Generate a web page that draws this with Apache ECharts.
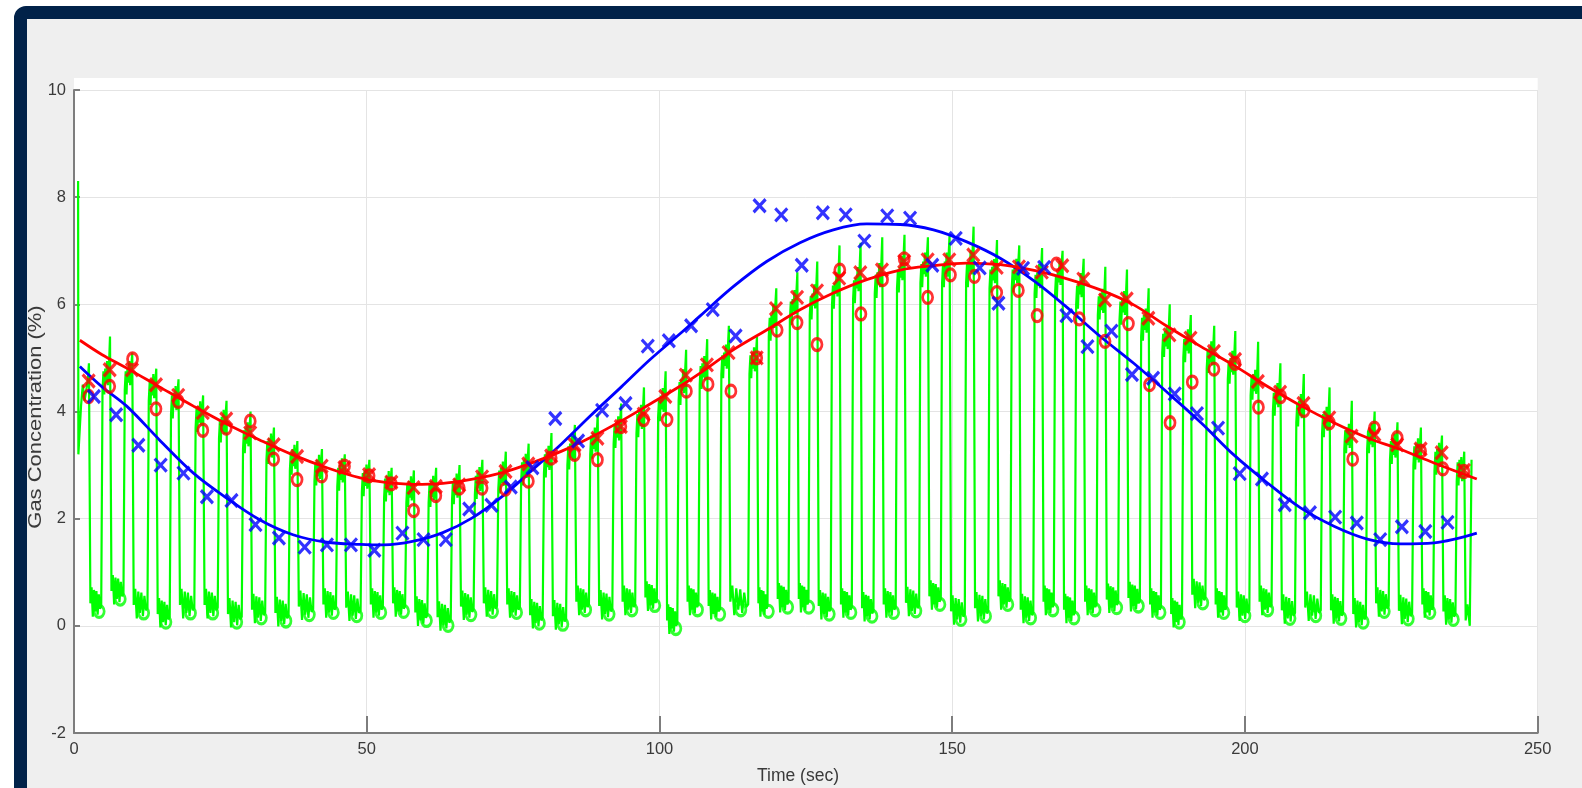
<!DOCTYPE html>
<html><head><meta charset="utf-8">
<script src="https://cdn.jsdelivr.net/npm/echarts@6/dist/echarts.min.js"></script>
<style>
html,body{margin:0;padding:0;background:#fff;}
body{width:1582px;height:788px;overflow:hidden;position:relative;}
#frame{position:absolute;left:14px;top:6px;width:1700px;height:900px;box-sizing:border-box;border:13px solid #012249;border-radius:12px;background:#efefef;}
#chart{position:absolute;left:0;top:0;width:1582px;height:788px;}
</style></head><body>
<div id="frame"></div><div id="chart"></div>
<script>
// ---------- data ----------
const xTicks = [0, 50, 100, 150, 200, 250];
const yTicks = [-2, 0, 2, 4, 6, 8, 10];

// end-tidal peaks (red x)
const redXTime = [2.5,6.1,9.9,14.0,17.8,22.0,26.0,30.1,34.1,38.1,42.3,46.2,50.4,54.2,58.0,61.8,65.8,69.7,73.7,77.6,81.5,85.5,89.4,93.4,97.3,101.0,104.5,108.1,111.8,116.6,119.9,123.5,126.9,130.7,134.3,138.0,141.8,145.8,149.5,153.6,157.6,161.4,165.3,168.8,172.4,176.1,179.8,183.5,187.1,190.7,194.7,198.3,202.2,206.0,210.0,214.4,218.2,222.1,226.0,230.0,233.6,237.4];
const redXValue = [4.57,4.78,4.78,4.50,4.30,3.98,3.86,3.60,3.38,3.16,2.98,2.95,2.82,2.68,2.58,2.60,2.63,2.78,2.88,3.02,3.17,3.38,3.50,3.72,3.95,4.28,4.68,4.87,5.10,5.00,5.92,6.13,6.25,6.49,6.59,6.64,6.80,6.83,6.83,6.92,6.69,6.70,6.60,6.72,6.47,6.08,6.10,5.74,5.43,5.37,5.12,4.97,4.56,4.36,4.15,3.88,3.54,3.57,3.38,3.30,3.23,2.90];

// red circles
const redOTime = [2.5,6.1,10.0,14.0,17.8,22.0,26.0,30.1,34.1,38.1,42.3,46.2,50.4,54.2,58.0,61.8,65.8,69.7,73.7,77.6,81.5,85.5,89.4,93.4,97.3,101.3,104.6,108.3,112.2,116.6,120.1,123.5,126.9,130.8,134.4,138.1,141.8,145.8,149.7,153.8,157.6,161.3,164.5,167.8,171.7,176.1,180.1,183.7,187.2,191.0,194.7,198.3,202.3,206.1,210.1,214.4,218.4,222.1,226.0,230.0,233.8,237.4];
const redOValue = [4.28,4.47,4.98,4.05,4.19,3.65,3.69,3.82,3.11,2.73,2.80,2.98,2.80,2.65,2.15,2.43,2.57,2.57,2.55,2.70,3.13,3.20,3.10,3.72,3.85,3.85,4.38,4.51,4.38,5.00,5.52,5.66,5.25,6.64,5.82,6.46,6.85,6.13,6.55,6.52,6.22,6.26,5.79,6.75,5.73,5.31,5.64,4.50,3.79,4.55,4.79,4.90,4.08,4.28,4.02,3.79,3.11,3.69,3.51,3.26,2.93,2.88];

// blue crosses
const blueXTime = [3.4,7.2,11.0,14.8,18.7,22.7,26.9,31.0,35.0,39.4,43.2,47.3,51.3,56.1,59.7,63.5,67.5,71.3,74.6,78.3,82.2,86.1,90.2,94.2,98.0,101.6,105.4,109.1,113.0,117.1,120.8,124.3,127.9,131.8,135.0,138.9,142.8,146.6,150.6,154.7,157.9,162.1,165.7,169.5,173.1,177.2,180.7,184.3,188.0,191.8,195.4,199.1,202.9,206.8,211.1,215.4,219.1,223.1,226.8,230.8,234.6];
const blueXValue = [4.28,3.94,3.37,3.00,2.85,2.41,2.34,1.89,1.64,1.47,1.51,1.51,1.41,1.73,1.61,1.61,2.18,2.25,2.59,2.95,3.87,3.45,4.02,4.15,5.22,5.32,5.60,5.90,5.41,7.84,7.67,6.73,7.71,7.67,7.18,7.65,7.61,6.73,7.23,6.68,6.02,6.67,6.69,5.79,5.21,5.50,4.69,4.62,4.33,3.96,3.69,2.84,2.74,2.26,2.11,2.03,1.92,1.61,1.85,1.76,1.93];

// green circles (inspired minimum)
const greenOTime = [4.3,7.9,11.9,15.7,19.9,23.7,27.8,32.0,36.2,40.2,44.3,48.3,52.4,56.3,60.2,63.9,67.8,71.5,75.6,79.5,83.5,87.4,91.4,95.3,99.2,102.8,106.5,110.3,113.9,118.6,121.9,125.5,129.0,132.7,136.3,140.0,143.8,147.9,151.5,155.7,159.5,163.4,167.2,170.8,174.4,178.1,181.8,185.5,188.8,192.8,196.4,200.0,203.9,207.7,212.1,216.4,220.2,223.8,227.9,231.6,235.6];
const greenOValue = [0.27,0.50,0.24,0.07,0.24,0.24,0.07,0.15,0.09,0.21,0.25,0.19,0.25,0.27,0.10,0.01,0.21,0.27,0.25,0.05,0.03,0.30,0.22,0.30,0.38,-0.05,0.30,0.22,0.30,0.27,0.35,0.35,0.22,0.25,0.18,0.25,0.28,0.40,0.12,0.18,0.40,0.15,0.30,0.15,0.30,0.34,0.37,0.25,0.07,0.43,0.25,0.19,0.30,0.14,0.19,0.14,0.07,0.27,0.13,0.25,0.12];

// green waveform: per-breath shoulder (top of fast rise) and spike top
const greenShoulder = [4.2,4.4,4.4,4.2,3.95,3.7,3.5,3.3,3.1,2.9,2.7,2.6,2.5,2.4,2.3,2.3,2.35,2.45,2.55,2.7,2.85,3.0,3.2,3.4,3.6,3.9,4.2,4.5,4.7,4.7,5.4,5.7,5.8,6.0,6.1,6.2,6.3,6.4,6.4,6.4,6.3,6.3,6.2,6.2,6.0,5.8,5.7,5.4,5.1,5.0,4.8,4.6,4.3,4.0,3.8,3.6,3.3,3.3,3.1,3.0,2.9,2.7];
const greenPeak = [4.9,5.4,5.1,4.8,4.6,4.3,4.2,4.0,3.7,3.45,3.3,3.2,3.1,2.95,2.9,2.95,3.0,3.1,3.25,3.4,3.6,3.75,3.95,4.15,4.45,4.75,5.15,5.35,5.6,5.4,6.3,6.6,6.8,7.1,7.15,7.25,7.3,7.25,7.3,7.45,7.2,7.1,7.05,7.0,6.85,6.7,6.65,6.3,6.0,5.8,5.6,5.5,5.3,4.9,4.7,4.45,4.2,4.0,3.8,3.7,3.55,3.25];
const greenStart = [[0.7,8.3],[0.75,3.2],[1.2,4.1],[1.5,4.5],[1.8,4.2]];
const greenEnd = [[237.7,0.1],[238.0,0.4],[238.4,0.0],[238.7,3.1]];

// fitted curves
const fitTime = [1.0,4.8,9.0,14.6,20.4,26.0,31.7,37.4,43.2,48.9,52.9,58.0,63.0,68.1,73.2,78.2,83.3,88.3,93.4,98.4,103.5,107.0,112.6,118.3,124.0,129.7,135.4,141.1,146.8,152.4,158.2,164.2,169.2,175.3,181.0,186.7,192.5,198.1,203.8,209.5,215.2,220.9,226.6,232.3,239.6];
const blueFitValue = [4.84,4.46,4.10,3.47,2.85,2.39,1.98,1.70,1.56,1.52,1.51,1.58,1.74,2.02,2.42,2.90,3.40,3.93,4.45,4.97,5.45,5.79,6.33,6.80,7.15,7.39,7.50,7.49,7.39,7.17,6.86,6.42,5.98,5.40,4.90,4.36,3.79,3.19,2.67,2.20,1.86,1.62,1.53,1.55,1.73];
const redFitValue = [5.33,5.06,4.81,4.46,4.10,3.77,3.47,3.19,2.95,2.76,2.68,2.64,2.66,2.74,2.86,3.04,3.26,3.52,3.82,4.14,4.47,4.72,5.15,5.52,5.90,6.21,6.46,6.64,6.72,6.77,6.74,6.63,6.49,6.27,5.99,5.59,5.21,4.86,4.47,4.11,3.79,3.51,3.29,3.04,2.74];

// ---------- build series tables ----------
const zip = (a, b) => a.map((t, i) => [t, b[i]]);

const greenLine = greenStart.slice();
const troughShape = [0.15, 0.45, -0.1, 0.4, 0.0, 0.38, -0.06, 0.32, 0.05];
for (let k = 0; k < redXTime.length; k++) {
  const P = redXTime[k] + 0.1;
  const R = redXValue[k];
  if (k > 0) {
    const O = P - 1.55;
    const S = greenShoulder[k];
    const M = (S + R) / 2;
    greenLine.push([O, greenOValue[k - 1] + 0.1]);
    greenLine.push([O + 0.22, S]);
    greenLine.push([O + 0.38, S + 0.35]);
    greenLine.push([O + 0.52, S - 0.08]);
    greenLine.push([O + 0.68, S + 0.4]);
    greenLine.push([O + 0.84, M - 0.05]);
    greenLine.push([O + 1.0, M + 0.35]);
    greenLine.push([O + 1.14, M - 0.1]);
  }
  greenLine.push([P - 0.25, R]);
  greenLine.push([P - 0.05, greenPeak[k]]);
  if (k < greenOValue.length) {
    const ts = P + 0.2;
    const te = redXTime[k + 1] + 0.1 - 1.55;
    const B = greenOValue[k];
    const n = troughShape.length;
    for (let i = 0; i < n; i++) {
      greenLine.push([ts + (te - ts) * i / n, B + troughShape[i]]);
    }
  }
}
greenEnd.forEach(p => greenLine.push(p));

// ---------- chart ----------
const FONT = '"Liberation Sans", Arial, Helvetica, sans-serif';
const AXIS = '#7d7d7d';
const LABEL = '#3a3a3a';
const GRIDC = '#e4e4e4';
const CROSS = 'path://M0,0L10,10M10,0L0,10';

const chart = echarts.init(document.getElementById('chart'), null, {renderer: 'canvas'});
chart.setOption({
  animation: false,
  backgroundColor: 'transparent',
  grid: {left: 74, right: 44.3, top: 90, bottom: 55},
  xAxis: {
    type: 'value', min: xTicks[0], max: xTicks[xTicks.length - 1], interval: 50,
    axisLine: {show: true, onZero: false, lineStyle: {color: AXIS, width: 2}},
    axisTick: {show: true, inside: true, length: 17, lineStyle: {color: AXIS, width: 2}},
    axisLabel: {color: LABEL, fontSize: 16.5, fontFamily: FONT, margin: 8},
    splitLine: {show: true, lineStyle: {color: GRIDC, width: 1}}
  },
  yAxis: {
    type: 'value', min: yTicks[0], max: yTicks[yTicks.length - 1], interval: 2,
    axisLine: {show: true, onZero: false, lineStyle: {color: AXIS, width: 2}},
    axisTick: {show: true, inside: true, length: 6, lineStyle: {color: AXIS, width: 2}},
    axisLabel: {color: LABEL, fontSize: 16.5, fontFamily: FONT, margin: 8},
    splitLine: {show: true, lineStyle: {color: GRIDC, width: 1}}
  },
  graphic: [
    {type: 'rect', z: -10, silent: true, shape: {x: 74, y: 78, width: 1463.7, height: 655}, style: {fill: '#ffffff'}},
    {type: 'text', x: 798, y: 776, silent: true,
     style: {text: 'Time (sec)', fontSize: 17.5, fontFamily: FONT, fill: LABEL, align: 'center', verticalAlign: 'middle'}},
    {type: 'text', x: 36, y: 417, rotation: Math.PI / 2, scaleX: 1.22, silent: true,
     style: {text: 'Gas Concentration (%)', fontSize: 18, fontFamily: FONT, fill: LABEL, align: 'center', verticalAlign: 'middle'}}
  ],
  series: [
    {type: 'line', data: greenLine, showSymbol: false, silent: true, z: 2,
     lineStyle: {color: '#00ff00', width: 2.2}},
    {type: 'line', data: zip(fitTime, blueFitValue), showSymbol: false, smooth: 0.35, silent: true, z: 3,
     lineStyle: {color: '#0000ff', width: 2.8}},
    {type: 'line', data: zip(fitTime, redFitValue), showSymbol: false, smooth: 0.35, silent: true, z: 3,
     lineStyle: {color: '#ff0000', width: 2.8}},
    {type: 'scatter', data: zip(greenOTime, greenOValue), symbol: 'circle', symbolSize: [10, 12], z: 4, silent: true,
     itemStyle: {color: 'rgba(0,0,0,0)', borderColor: '#00ff00', borderWidth: 3}},
    {type: 'scatter', data: zip(redOTime, redOValue), symbol: 'circle', symbolSize: [10, 12], z: 5, silent: true,
     itemStyle: {color: 'rgba(0,0,0,0)', borderColor: '#ff0000', borderWidth: 3}},
    {type: 'scatter', data: zip(redXTime, redXValue), symbol: CROSS, symbolSize: [12, 13], z: 5, silent: true,
     itemStyle: {color: 'rgba(0,0,0,0)', borderColor: '#ff0000', borderWidth: 3.2}},
    {type: 'scatter', data: zip(blueXTime, blueXValue), symbol: CROSS, symbolSize: [12, 13], z: 6, silent: true,
     itemStyle: {color: 'rgba(0,0,0,0)', borderColor: '#0000ff', borderWidth: 3.2}}
  ]
});
</script></body></html>
